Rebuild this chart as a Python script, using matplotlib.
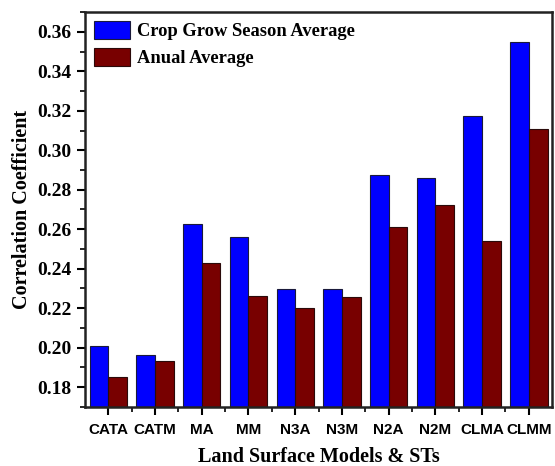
import matplotlib.pyplot as plt
import numpy as np
from matplotlib.ticker import MultipleLocator

models = ['CATA', 'CATM', 'MA', 'MM', 'N3A', 'N3M', 'N2A', 'N2M', 'CLMA', 'CLMM']
crop_season = [0.2006, 0.1963, 0.2625, 0.2563, 0.2295, 0.2298, 0.2873, 0.2858, 0.3172, 0.3548]
annual = [0.1853, 0.1933, 0.2428, 0.2262, 0.2203, 0.2254, 0.2612, 0.2724, 0.2542, 0.3108]

serif = ['Liberation Serif', 'DejaVu Serif']
sans = ['Liberation Sans', 'DejaVu Sans']

fig = plt.figure(figsize=(5.55, 4.66), dpi=100)
ax = fig.add_axes([0.153, 0.127, 0.842, 0.847])

x = np.arange(len(models))
w = 0.4
ax.bar(x - w / 2, crop_season, w, color='#0000FF', edgecolor='#1a1a3a', linewidth=0.8,
       label='Crop Grow Season Average')
ax.bar(x + w / 2, annual, w, color='#780000', edgecolor='#2a0a0a', linewidth=0.8,
       label='Anual Average')

ax.set_xlim(-0.5, 9.5)
ax.yaxis.set_minor_locator(MultipleLocator(0.01))
yt = np.arange(0.18, 0.361, 0.02)
ax.set_yticks(yt)
ax.set_yticklabels(['%.2f' % v for v in yt], fontfamily=serif, fontweight='bold', fontsize=14)
ax.set_ylim(0.17, 0.37)
ax.set_xticks(x)
ax.set_xticks(x[:-1] + 0.5, minor=True)
ax.set_xticklabels(models, fontfamily=sans, fontweight='bold', fontsize=11)

ax.tick_params(axis='both', which='major', direction='out', length=6, width=1.5)
ax.tick_params(axis='both', which='minor', direction='out', length=3.5, width=1.2)
ax.tick_params(axis='x', which='major', pad=6)
ax.tick_params(top=False, right=False, which='both')
for s in ax.spines.values():
    s.set_linewidth(1.8)
    s.set_color('#222222')

ax.set_xlabel('Land Surface Models & STs', fontfamily=serif, fontweight='bold', fontsize=14.5,
              labelpad=7)
ax.set_ylabel('Correlation Coefficient', fontfamily=serif, fontweight='bold', fontsize=14.5)

ax.legend(loc='upper left', frameon=False, prop={'family': serif, 'weight': 'bold', 'size': 13.3},
          handlelength=1.95, handleheight=1.1, borderaxespad=0.1, labelspacing=0.4,
          handletextpad=0.35)

fig.savefig('out.png', dpi=100)
